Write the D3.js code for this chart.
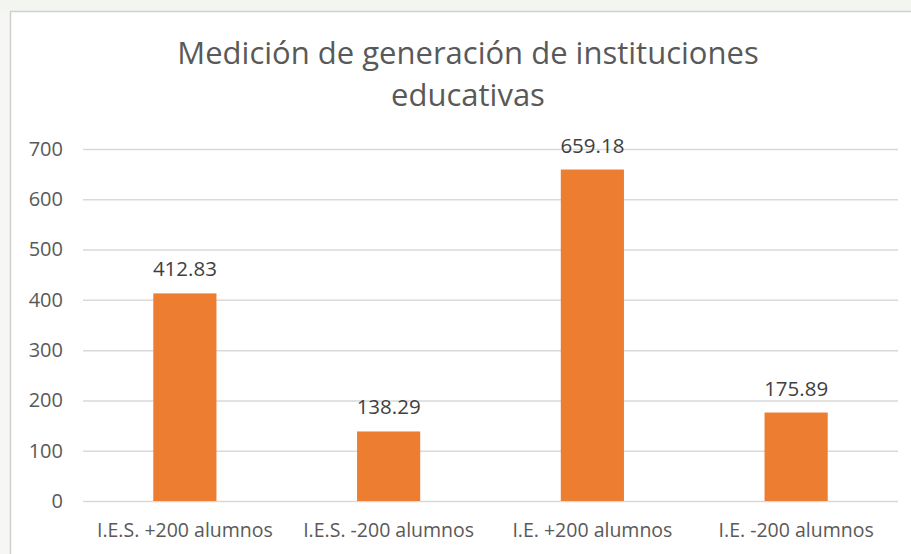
<!DOCTYPE html>
<html><head><meta charset="utf-8">
<script src="https://cdn.jsdelivr.net/npm/d3@7"></script>
<style>html,body{margin:0;padding:0;background:#fff;}svg{display:block;}</style>
</head><body>
<svg id="c" width="911" height="554"></svg>
<script>
const categories = ["I.E.S. +200 alumnos", "I.E.S. -200 alumnos", "I.E. +200 alumnos", "I.E. -200 alumnos"];
const values = [412.83, 138.29, 659.18, 175.89];
const valueLabels = ["412.83", "138.29", "659.18", "175.89"];
const yTicks = [0, 100, 200, 300, 400, 500, 600, 700];
const titleLines = ["Medición de generación de instituciones", "educativas"];

const svg = d3.select("#c");
const W = 911, H = 554;
const m = {left: 83, right: 13, top: 149, bottom: 53};

// frame
svg.append("rect").attr("x", 0).attr("y", 0).attr("width", W).attr("height", 11).attr("fill", "#f3f5f1");
svg.append("rect").attr("x", 0).attr("y", 11).attr("width", 10).attr("height", H - 11).attr("fill", "#f6f7f4");
svg.append("line").attr("x1", 10).attr("x2", W).attr("y1", 11.5).attr("y2", 11.5).attr("stroke", "#d0d0d0").attr("stroke-width", 1.5);
svg.append("line").attr("x1", 10.5).attr("x2", 10.5).attr("y1", 11).attr("y2", H).attr("stroke", "#d0d0d0").attr("stroke-width", 1.5);

const x = d3.scaleBand().domain(categories).range([m.left, W - m.right]).paddingInner(0.69).paddingOuter(0.345);
const y = d3.scaleLinear().domain([0, 700]).range([H - m.bottom, m.top]);

const yAxis = svg.append("g").attr("transform", `translate(${m.left},0)`)
  .call(d3.axisLeft(y).tickValues(yTicks).tickSize(-(W - m.left - m.right)).tickPadding(20).tickFormat(d3.format("d")));
yAxis.select(".domain").remove();
yAxis.selectAll(".tick line").attr("stroke", "#d9d9d9").attr("stroke-width", 1.5);
yAxis.selectAll(".tick text").attr("fill", "#595959").style("font-family", "'Open Sans', sans-serif").style("font-size", "20px");

svg.append("g").selectAll("rect").data(values).join("rect")
  .attr("x", (d, i) => x(categories[i]))
  .attr("width", x.bandwidth())
  .attr("y", d => y(d))
  .attr("height", d => y(0) - y(d))
  .attr("fill", "#ED7D31");

svg.append("g").selectAll("text").data(values).join("text")
  .attr("x", (d, i) => x(categories[i]) + x.bandwidth() / 2)
  .attr("y", d => y(d) - 17)
  .attr("text-anchor", "middle")
  .attr("fill", "#404040")
  .style("font-family", "'Open Sans', sans-serif").style("font-size", "20.5px")
  .text((d, i) => valueLabels[i]);

const xAxis = svg.append("g").attr("transform", `translate(0,${H - m.bottom})`)
  .call(d3.axisBottom(x).tickSize(0).tickPadding(0));
xAxis.select(".domain").remove();
xAxis.selectAll(".tick text").attr("fill", "#595959").attr("dy", null).attr("y", 36)
  .style("font-family", "'Open Sans', sans-serif").style("font-size", "19.5px");

svg.append("g").selectAll("text").data(titleLines).join("text")
  .attr("x", 468).attr("y", (d, i) => 64 + i * 42)
  .attr("text-anchor", "middle").attr("fill", "#595959")
  .style("font-family", "'Open Sans', sans-serif").style("font-size", "31px")
  .text(d => d);
</script>
</body></html>
